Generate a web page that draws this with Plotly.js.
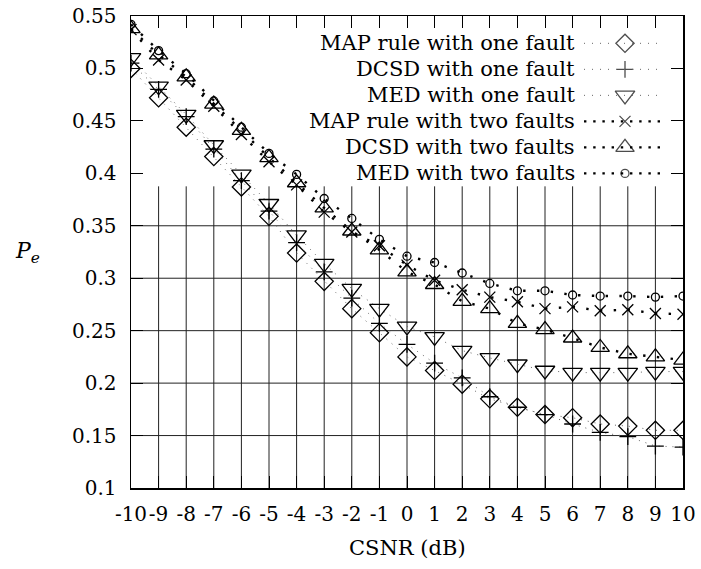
<!DOCTYPE html>
<html>
<head>
<meta charset="utf-8">
<script src="https://cdn.plot.ly/plotly-3.0.1.min.js"></script>
<style>html,body{margin:0;padding:0;background:#fff;}#chart{width:701px;height:569px;}</style>
</head>
<body>
<div id="chart"></div>
<script>
// ---- data ----
const csnr = [-10,-9,-8,-7,-6,-5,-4,-3,-2,-1,0,1,2,3,4,5,6,7,8,9,10];
const mapOneFault  = [0.500,0.472,0.444,0.416,0.387,0.359,0.324,0.297,0.271,0.248,0.225,0.212,0.199,0.185,0.177,0.170,0.167,0.161,0.159,0.155,0.155];
const dcsdOneFault = [0.505,0.480,0.454,0.423,0.393,0.364,0.334,0.306,0.281,0.257,0.237,0.219,0.205,0.187,0.177,0.170,0.161,0.153,0.149,0.140,0.139];
const medOneFault  = [0.510,0.483,0.456,0.427,0.399,0.371,0.341,0.314,0.290,0.271,0.254,0.244,0.231,0.224,0.218,0.212,0.210,0.210,0.210,0.211,0.211];
const mapTwoFaults  = [0.537,0.508,0.489,0.464,0.437,0.411,0.389,0.363,0.344,0.331,0.3125,0.298,0.289,0.282,0.2775,0.271,0.2727,0.269,0.270,0.2664,0.2657];
const dcsdTwoFaults = [0.538,0.513,0.492,0.466,0.441,0.415,0.391,0.367,0.345,0.327,0.306,0.294,0.278,0.271,0.257,0.251,0.243,0.234,0.228,0.225,0.222];
const medTwoFaults  = [0.542,0.517,0.495,0.469,0.444,0.419,0.399,0.376,0.357,0.337,0.321,0.315,0.305,0.295,0.288,0.288,0.284,0.283,0.283,0.282,0.283];
const seriesNames = ['MAP rule with one fault','DCSD with one fault','MED with one fault',
                     'MAP rule with two faults','DCSD with two faults','MED with two faults'];
const xTickLabels = csnr.map(v => String(v));
const yTickVals = [0.1,0.15,0.2,0.25,0.3,0.35,0.4,0.45,0.5,0.55];
const yTickLabels = ['0.1','0.15','0.2','0.25','0.3','0.35','0.4','0.45','0.5','0.55'];
const gridTopValue = 0.3876;

// ---- styles ----
const FONT = 'DejaVu Serif';
const FS = 20;
const thinDash = {color:'#666', width:1, dash:'1px,5.9px'};
const boldDash = {color:'#000', width:2.4, dash:'2.4px,11.4px'};
const styles = [
  {symbol:'diamond-open', size:14, line:thinDash, legDash:'1px,7px'},
  {symbol:'cross-thin-open', size:12, line:thinDash, legDash:'1px,7px'},
  {symbol:'triangle-down-open', size:17, line:thinDash, legDash:'1px,7px'},
  {symbol:'x-thin-open', size:11, line:boldDash, legDash:'2.4px,6.8px'},
  {symbol:'triangle-up-open', size:16, line:boldDash, legDash:'2.4px,6.8px'},
  {symbol:'circle-open', size:8, line:boldDash, legDash:'2.4px,6.8px'}
];
const allSeries = [mapOneFault, dcsdOneFault, medOneFault, mapTwoFaults, dcsdTwoFaults, medTwoFaults];

const traces = allSeries.map((ys, i) => ({
  type:'scatter', mode:'lines+markers', x:csnr, y:ys, name:seriesNames[i], showlegend:false,
  line:styles[i].line,
  marker:{symbol:styles[i].symbol, size:styles[i].size, color:'#000', line:{color:'#000', width:1.3}},
  hoverinfo:'skip'
}));

// ---- legend (text left of sample, right aligned) on an overlay paper-like axis ----
const plotL = 131, plotR = 683, plotT = 16, plotB = 487.7;
const fx = px => (px - plotL) / (plotR - plotL);
const fy = py => (plotB - py) / (plotB - plotT);
const legRows = [43.3, 69.3, 95.3, 121.3, 147.3, 173.3];
const annotations = [];
const shapes = [];
seriesNames.forEach((nm, i) => {
  annotations.push({xref:'paper', yref:'paper', x:fx(577), y:fy(legRows[i]), xanchor:'right', yanchor:'middle',
    text:nm, showarrow:false, font:{family:FONT, size:FS+1, color:'#000'}});
  shapes.push({type:'line', xref:'paper', yref:'paper', x0:fx(584), x1:fx(664), y0:fy(legRows[i]), y1:fy(legRows[i]),
    line:{color:styles[i].line.color, width:styles[i].line.width, dash:styles[i].legDash}});
});
traces.push({
  type:'scatter', mode:'markers', xaxis:'x2', yaxis:'y2', showlegend:false, hoverinfo:'skip',
  x:legRows.map(() => fx(625)), y:legRows.map(r => fy(r)),
  marker:{symbol:styles.map(s => s.symbol), size:styles.map(s => s.size), color:'#000', line:{color:'#000', width:1.3}}
});

// ---- grid (only below the key area) ----
csnr.slice(1, -1).forEach(v => {
  shapes.push({type:'line', xref:'x', yref:'y', x0:v, x1:v, y0:yTickVals[0], y1:gridTopValue, layer:'below',
    line:{color:'#222', width:1}});
});
yTickVals.filter(v => v > 0.11 && v < gridTopValue).forEach(v => {
  shapes.push({type:'line', xref:'x', yref:'y', x0:csnr[0], x1:csnr[csnr.length-1], y0:v, y1:v, layer:'below',
    line:{color:'#222', width:1}});
});

annotations.push({xref:'paper', yref:'paper', x:fx(27), y:fy(252), xanchor:'center', yanchor:'middle', showarrow:false,
  text:'<i>P<sub>e</sub></i>', font:{family:FONT, size:FS+2, color:'#000'}});
annotations.push({xref:'paper', yref:'paper', x:0.5, y:fy(548), xanchor:'center', yanchor:'middle', showarrow:false,
  text:'CSNR (dB)', font:{family:FONT, size:FS+1, color:'#000'}});

const axisCommon = {ticks:'inside', ticklen:12, tickwidth:1, tickcolor:'#000', showline:true, linewidth:1.5,
  linecolor:'#000', mirror:'ticks', showgrid:false, zeroline:false, tickangle:0,
  tickfont:{family:FONT, size:FS, color:'#000'}};

const layout = {
  width:701, height:569, margin:{l:131, r:18, t:16, b:81},
  paper_bgcolor:'#fff', plot_bgcolor:'#fff', showlegend:false,
  font:{family:FONT, color:'#000'},
  xaxis:Object.assign({}, axisCommon, {range:[-10,10], tickvals:csnr, ticktext:xTickLabels, ticklabelstandoff:7}),
  yaxis:Object.assign({}, axisCommon, {range:[0.1,0.55], tickvals:yTickVals, ticktext:yTickLabels, ticklabelstandoff:9}),
  xaxis2:{overlaying:'x', range:[0,1], visible:false, fixedrange:true},
  yaxis2:{overlaying:'y', range:[0,1], visible:false, fixedrange:true},
  annotations:annotations, shapes:shapes
};
Plotly.newPlot('chart', traces, layout, {staticPlot:true, displayModeBar:false});
</script>
</body>
</html>
